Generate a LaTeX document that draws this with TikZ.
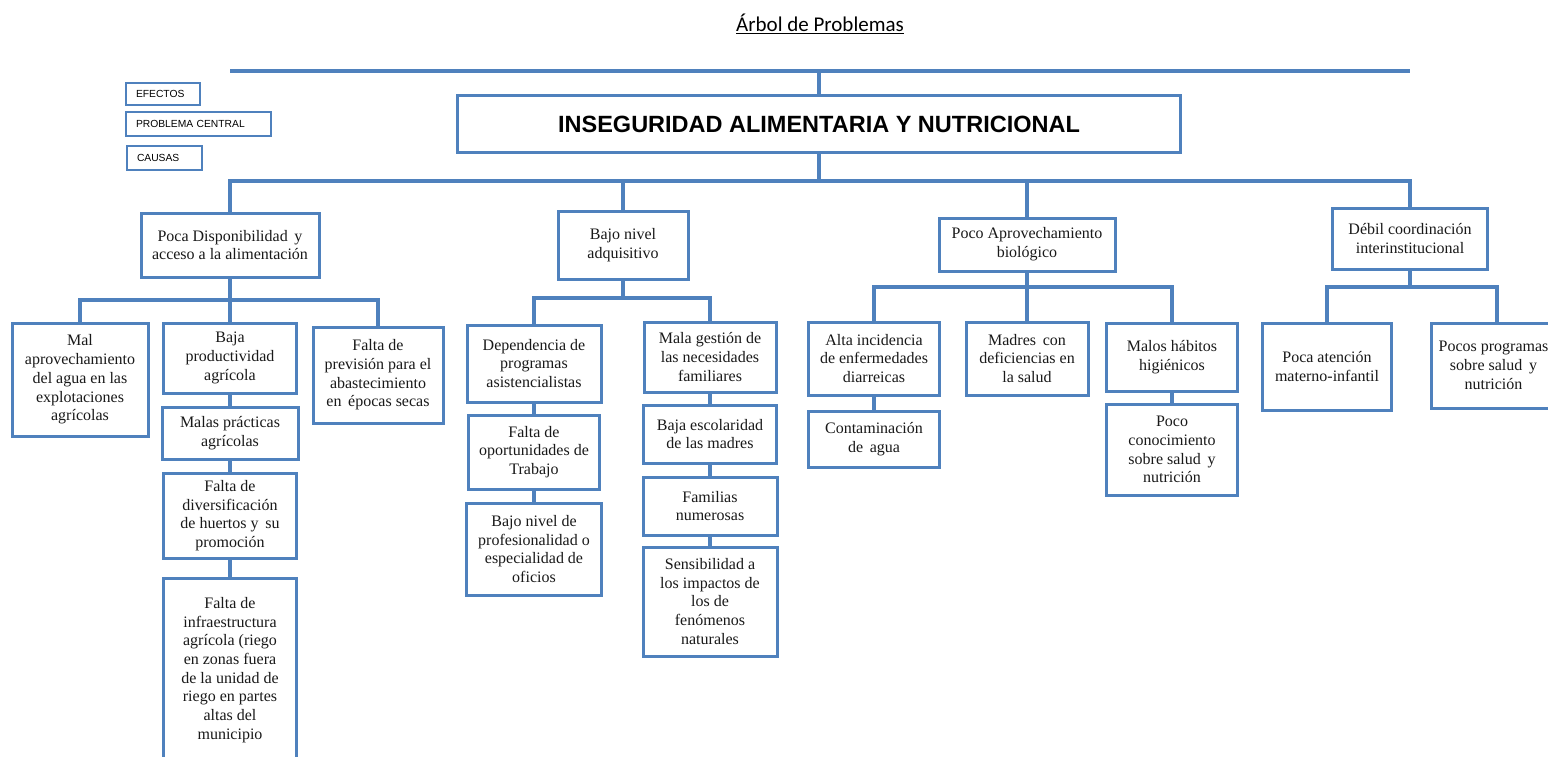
\documentclass[tikz,border=0pt]{standalone}
\usepackage{fontspec}
\setmainfont{Liberation Serif}
\newfontfamily\arialf{Liberation Sans}
\newfontfamily\calibrif{Carlito}
\definecolor{lineblue}{RGB}{79,129,189}
\begin{document}
\begin{tikzpicture}[x=1pt,y=-1pt,
  box/.style={draw=lineblue,line width=3pt,fill=white,align=center,inner sep=2pt,
    font=\fontsize{16}{18.7}\selectfont,text=black!90},
  legendbox/.style={draw=lineblue,line width=2.5pt,fill=white,inner ysep=0pt,inner xsep=10pt,
    align=left,font=\arialf\fontsize{10.3}{12}\selectfont},
  conn/.style={draw=lineblue,line width=3.5pt,line join=miter}]
\useasboundingbox[fill=white] (0,0) rectangle (1548,757);

% title
\node[font=\calibrif\fontsize{21}{24}\selectfont] (title) at (820,24) {\underline{Árbol de Problemas}};

% legend
\node[legendbox,text width=54pt,minimum height=22pt] (ef) at (163,94) {EFECTOS};
\node[legendbox,text width=125pt,minimum height=24pt] (pc) at (198.5,124) {PROBLEMA CENTRAL};
\node[legendbox,text width=55pt,minimum height=24pt] (ca) at (164.5,158) {CAUSAS};

% central problem
\coordinate (tl1) at (230,71);
\coordinate (tl2) at (1410,71);
\coordinate (bl) at (230,181);
\node[draw=lineblue,line width=3pt,fill=white,minimum width=723pt,minimum height=57pt,
  font=\arialf\bfseries\fontsize{23.5}{26}\selectfont] (central) at (819,124.5)
  {INSEGURIDAD ALIMENTARIA Y NUTRICIONAL};

% level 1
\node[box,minimum width=178pt,minimum height=64pt] (A) at (230,245) {Poca Disponibilidad\, y\\acceso a la alimentación};
\node[box,minimum width=130pt,minimum height=68pt] (B) at (623,245) {Bajo nivel\\adquisitivo};
\node[box,minimum width=176pt,minimum height=53pt] (C) at (1027,244.5) {Poco Aprovechamiento\\biológico};
\node[box,minimum width=155pt,minimum height=61pt] (D) at (1410,238.5) {Débil coordinación\\interinstitucional};

% branch A
\coordinate (barA) at (0,300);
\node[box,minimum width=136pt,minimum height=113pt] (A1) at (80,379.5) {Mal\\aprovechamiento\\del agua en las\\explotaciones\\agrícolas};
\node[box,minimum width=133pt,minimum height=70pt] (A2) at (230,358) {Baja\\productividad\\agrícola};
\node[box,minimum width=130pt,minimum height=96pt] (A3) at (378,375) {Falta de\\previsión para el\\abastecimiento\\en\, épocas secas};
\node[box,minimum width=136pt,minimum height=52pt] (A21) at (230,433) {Malas prácticas\\agrícolas};
\node[box,minimum width=133pt,minimum height=85pt] (A22) at (230,515.5) {Falta de\\diversificación\\de huertos y\, su\\promoción};
\node[box,minimum width=133pt,minimum height=184pt] (A23) at (230,670) {Falta de\\infraestructura\\agrícola (riego\\en zonas fuera\\de la unidad de\\riego en partes\\altas del\\municipio};

% branch B
\coordinate (barB) at (0,298);
\node[box,minimum width=134pt,minimum height=77pt] (B1) at (534,363.5) {Dependencia de\\programas\\asistencialistas};
\node[box,minimum width=131pt,minimum height=74pt] (B11) at (534,452) {Falta de\\oportunidades de\\Trabajo};
\node[box,minimum width=135pt,minimum height=92pt] (B12) at (534,549) {Bajo nivel de\\profesionalidad o\\especialidad de\\oficios};
\node[box,minimum width=132pt,minimum height=70pt] (B2) at (710,357) {Mala gestión de\\las necesidades\\familiares};
\node[box,minimum width=133pt,minimum height=58pt] (B21) at (710,434) {Baja escolaridad\\de las madres};
\node[box,minimum width=134pt,minimum height=58pt] (B22) at (710,506) {Familias\\numerosas};
\node[box,minimum width=134pt,minimum height=109pt] (B23) at (710,601.5) {Sensibilidad a\\los impactos de\\los de\\fenómenos\\naturales};

% branch C
\coordinate (barC) at (0,287);
\node[box,minimum width=131pt,minimum height=73pt] (C1) at (874,358.5) {Alta incidencia\\de enfermedades\\diarreicas};
\node[box,minimum width=131pt,minimum height=56pt] (C11) at (874,439) {Contaminación\\de\, agua};
\node[box,minimum width=122pt,minimum height=73pt] (C2) at (1027,358.5) {Madres\, con\\deficiencias en\\la salud};
\node[box,minimum width=131pt,minimum height=68pt] (C3) at (1172,357) {Malos hábitos\\higiénicos};
\node[box,minimum width=131pt,minimum height=91pt] (C31) at (1172,449.5) {Poco\\conocimiento\\sobre salud\, y\\nutrición};

% branch D
\coordinate (barD) at (0,287);
\node[box,minimum width=129pt,minimum height=87pt] (D1) at (1327,366.5) {Poca atención\\materno-infantil};
\node[box,minimum width=124pt,minimum height=85pt,anchor=west] (D2) at (1430,365.5) {Pocos programas\\sobre salud\, y\\nutrición};
\coordinate (D2top) at (1497,323);

% connectors
\draw[conn] (tl1) -- (tl2);
\draw[conn] (central.north) -- (central.north |- tl1);
\draw[conn] (central.south) -- (central.south |- bl);
\draw[conn] (A.north) -- (A.north |- bl) -- (D.north |- bl) -- (D.north);
\draw[conn] (B.north) -- (B.north |- bl);
\draw[conn] (C.north) -- (C.north |- bl);

\draw[conn] (A1.north) -- (A1.north |- barA) -- (A3.north |- barA) -- (A3.north);
\draw[conn] (A.south) -- (A2.north);
\draw[conn] (A2.south) -- (A21.north);
\draw[conn] (A21.south) -- (A22.north);
\draw[conn] (A22.south) -- (A23.north);

\draw[conn] (B1.north) -- (B1.north |- barB) -- (B2.north |- barB) -- (B2.north);
\draw[conn] (B.south) -- (B.south |- barB);
\draw[conn] (B1.south) -- (B11.north);
\draw[conn] (B11.south) -- (B12.north);
\draw[conn] (B2.south) -- (B21.north);
\draw[conn] (B21.south) -- (B22.north);
\draw[conn] (B22.south) -- (B23.north);

\draw[conn] (C1.north) -- (C1.north |- barC) -- (C3.north |- barC) -- (C3.north);
\draw[conn] (C.south) -- (C2.north);
\draw[conn] (C1.south) -- (C11.north);
\draw[conn] (C3.south) -- (C31.north);

\draw[conn] (D1.north) -- (D1.north |- barD) -- (D2top |- barD) -- (D2top);
\draw[conn] (D.south) -- (D.south |- barD);
\end{tikzpicture}
\end{document}
